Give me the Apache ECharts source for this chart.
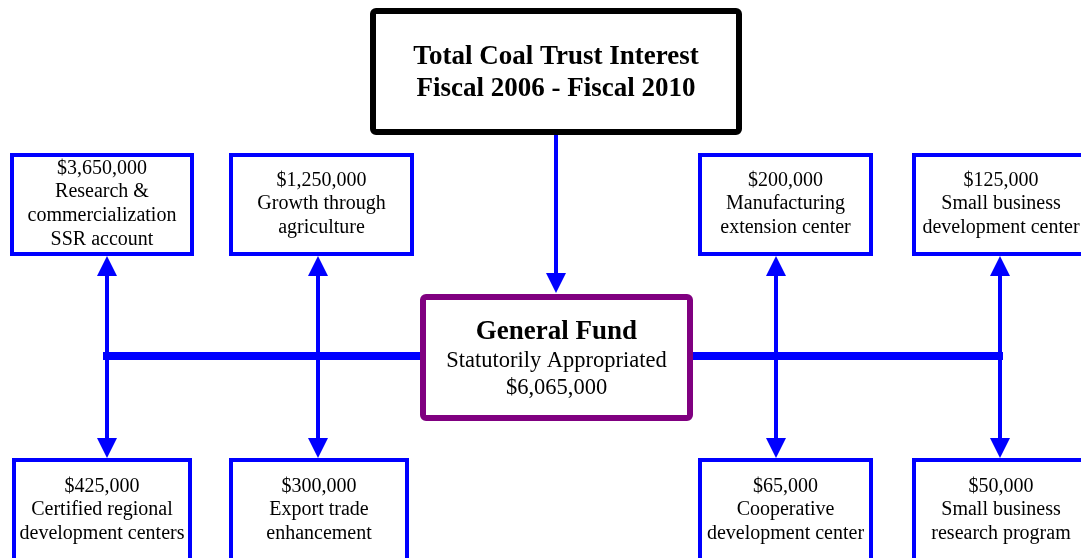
<!DOCTYPE html>
<html>
<head>
<meta charset="utf-8">
<script src="https://cdn.jsdelivr.net/npm/echarts@6/dist/echarts.min.js"></script>
<style>
  html, body { margin: 0; padding: 0; background: #fff; }
  #chart { width: 1081px; height: 558px; }
</style>
</head>
<body>
<div id="chart"></div>
<script>
// --- data ---
const titleLines = ['Total Coal Trust Interest', 'Fiscal 2006 - Fiscal 2010'];
const fundName = 'General Fund';
const fundNote = 'Statutorily Appropriated';
const fundTotal = 6065000;

const topPrograms = ['Research &\ncommercialization\nSSR account', 'Growth through\nagriculture', 'Manufacturing\nextension center', 'Small business\ndevelopment center'];
const topAmounts = [3650000, 1250000, 200000, 125000];
const bottomPrograms = ['Certified regional\ndevelopment centers', 'Export trade\nenhancement', 'Cooperative\ndevelopment center', 'Small business\nresearch program'];
const bottomAmounts = [425000, 300000, 65000, 50000];

// --- layout (pixel space of the page) ---
const topBoxLeft = [10, 229, 698, 912];
const topBoxRight = [194, 414, 873, 1090];
const bottomBoxLeft = [12, 229, 698, 912];
const bottomBoxRight = [192, 409, 873, 1090];
const arrowX = [107, 318, 776, 1000];
const busY = 356;

const money = v => '$' + v.toLocaleString('en-US');
const serif = '"Liberation Serif", "Times New Roman", serif';

// boxes: [x0, y0, x1, y1, kind, index]
const boxes = [
  [373, 11, 739, 132, 'title', 0],
  [423, 297, 690, 418, 'fund', 0]
];
topAmounts.forEach((v, i) => boxes.push([topBoxLeft[i] + 2, 155, topBoxRight[i] - 2, 254, 'top', i]));
bottomAmounts.forEach((v, i) => boxes.push([bottomBoxLeft[i] + 2, 460, bottomBoxRight[i] - 2, 600, 'bottom', i]));

// connectors: [x1, y1, x2, y2, lineWidth, arrow]
const links = [
  [556, 135, 556, 293, 4, 1],
  [103, busY, 420, busY, 8, 0],
  [693, busY, 1003, busY, 8, 0]
];
arrowX.forEach(x => {
  links.push([x, busY, x, 256, 4, 1]);
  links.push([x, busY, x, 458, 4, 1]);
});

function boxText(kind, i) {
  if (kind === 'title') return { text: titleLines.join('\n'), font: 'bold 27px ' + serif, lh: 32 };
  const prog = kind === 'top' ? topPrograms[i] : bottomPrograms[i];
  const amt = kind === 'top' ? topAmounts[i] : bottomAmounts[i];
  return { text: money(amt) + '\n' + prog, font: '20px ' + serif, lh: 23.7 };
}

const chart = echarts.init(document.getElementById('chart'));
chart.setOption({
  animation: false,
  grid: { left: 0, right: 0, top: 0, bottom: 0 },
  xAxis: { type: 'value', min: 0, max: 1081, show: false },
  yAxis: { type: 'value', min: 0, max: 558, inverse: true, show: false },
  series: [
    {
      type: 'custom',
      data: links,
      z: 1,
      renderItem: (params, api) => {
        const a = api.coord([api.value(0), api.value(1)]);
        const b = api.coord([api.value(2), api.value(3)]);
        const lw = api.value(4);
        const children = [];
        let end = b;
        const dx = b[0] - a[0], dy = b[1] - a[1];
        const len = Math.hypot(dx, dy);
        const ux = dx / len, uy = dy / len;
        if (api.value(5)) {
          const L = 20, W = 10;
          const bx = b[0] - ux * L, by = b[1] - uy * L;
          end = [bx + ux * 2, by + uy * 2];
          children.push({
            type: 'polygon',
            shape: { points: [b, [bx - uy * W, by + ux * W], [bx + uy * W, by - ux * W]] },
            style: { fill: '#0000ff' }
          });
        }
        children.push({
          type: 'line',
          shape: { x1: a[0], y1: a[1], x2: end[0], y2: end[1] },
          style: { stroke: '#0000ff', lineWidth: lw }
        });
        return { type: 'group', children };
      }
    },
    {
      type: 'custom',
      data: boxes,
      z: 2,
      renderItem: (params, api) => {
        const item = boxes[params.dataIndex];
        const p0 = api.coord([item[0], item[1]]);
        const p1 = api.coord([item[2], item[3]]);
        const kind = item[4], i = item[5];
        const w = p1[0] - p0[0], h = p1[1] - p0[1];
        let stroke = '#0000ff', lw = 4, r = 0;
        if (kind === 'title') { stroke = '#000'; lw = 6; r = 3; }
        if (kind === 'fund') { stroke = '#800080'; lw = 6; r = 3; }
        const rect = {
          type: 'rect',
          shape: { x: p0[0], y: p0[1], width: w, height: h, r },
          style: { fill: '#fff', stroke, lineWidth: lw }
        };
        let text;
        const cx = p0[0] + w / 2;
        if (kind === 'fund') {
          text = {
            type: 'text',
            style: {
              x: cx, y: api.coord([0, 359])[1],
              text: '{b|' + fundName + '}\n{n|' + fundNote + '}\n{n|' + money(fundTotal) + '}',
              align: 'center', verticalAlign: 'middle', fill: '#000',
              rich: {
                b: { font: 'bold 27px ' + serif, lineHeight: 32, align: 'center' },
                n: { font: '22.5px ' + serif, lineHeight: 27, align: 'center' }
              }
            }
          };
        } else {
          const t = boxText(kind, i);
          let cy = 204;
          if (kind === 'bottom') cy = 510;
          if (kind === 'title') cy = 73;
          text = {
            type: 'text',
            style: {
              x: cx, y: api.coord([0, cy])[1],
              text: t.text, font: t.font, lineHeight: t.lh,
              align: 'center', verticalAlign: 'middle', fill: '#000'
            }
          };
        }
        return { type: 'group', children: [rect, text] };
      }
    }
  ]
});
</script>
</body>
</html>
